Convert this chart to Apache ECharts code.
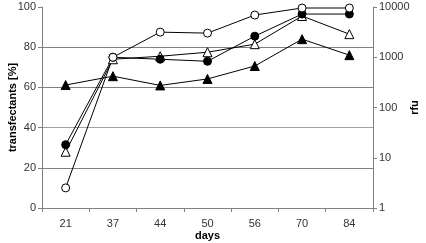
<!DOCTYPE html>
<html>
<head>
<meta charset="utf-8">
<script src="https://cdn.jsdelivr.net/npm/echarts@6/dist/echarts.min.js"></script>
<style>
  html, body { margin: 0; padding: 0; background: #fff; }
  #chart { width: 426px; height: 243px; }
</style>
</head>
<body>
<div id="chart"></div>
<script>
// days after start
var days = ['21', '37', '44', '50', '56', '70', '84'];
// transfectants [%]
var openCircle = [10, 75, 87.5, 87, 96, 99.5, 99.5];
var filledCircle = [31.5, 75, 74, 73, 85.5, 96.5, 96.5];
var openTriangle = [28, 74, 75.5, 77.5, 81.5, 95.5, 86.5];
// rfu (right log axis)
var filledTriangle = [280, 420, 275, 370, 670, 2290, 1100];

var font = 'Liberation Sans, Arial, sans-serif';
var axisGray = '#808080';

var chart = echarts.init(document.getElementById('chart'));

function seriesItem(name, data, symbol, filled, yIdx) {
  return {
    name: name,
    type: 'line',
    data: data,
    yAxisIndex: yIdx,
    symbol: symbol,
    symbolSize: symbol == 'triangle' ? 9 : 8,
    showAllSymbol: true,
    lineStyle: { color: '#000', width: 1 },
    itemStyle: {
      color: filled ? '#000' : '#fff',
      borderColor: '#000',
      borderWidth: 1
    },
    emphasis: { disabled: true },
    animation: false
  };
}

var option = {
  animation: false,
  grid: { left: 42, right: 53, top: 7, bottom: 35, outerBoundsMode: 'none', containLabel: false },
  xAxis: {
    type: 'category',
    data: days,
    boundaryGap: true,
    name: 'days',
    nameLocation: 'middle',
    nameGap: 22,
    nameMoveOverlap: false,
    nameTextStyle: { fontFamily: font, fontSize: 11, fontWeight: 'bold', color: '#000' },
    axisLine: { lineStyle: { color: axisGray, width: 1 } },
    axisTick: { show: true, length: 4, lineStyle: { color: axisGray } },
    axisLabel: { fontFamily: font, fontSize: 11, color: '#333', margin: 10 }
  },
  yAxis: [
    {
      type: 'value',
      min: 0,
      max: 100,
      interval: 20,
      name: 'transfectants [%]',
      nameLocation: 'middle',
      nameGap: 24,
      nameMoveOverlap: false,
      nameTextStyle: { fontFamily: font, fontSize: 11, fontWeight: 'bold', color: '#000' },
      axisLine: { show: true, lineStyle: { color: axisGray, width: 1 } },
      axisTick: { show: true, length: 4, lineStyle: { color: axisGray } },
      axisLabel: { fontFamily: font, fontSize: 11, color: '#333', margin: 6 },
      splitLine: {
        show: true,
        lineStyle: { color: ['transparent', '#808080', '#a0a0a0', '#808080', '#808080', 'transparent'], width: 1 }
      }
    },
    {
      type: 'log',
      logBase: 10,
      min: 1,
      max: 10000,
      name: 'rfu',
      nameLocation: 'middle',
      nameGap: 36,
      nameRotate: 90,
      nameMoveOverlap: false,
      nameTextStyle: { fontFamily: font, fontSize: 11, fontWeight: 'bold', color: '#000' },
      axisLine: { show: true, lineStyle: { color: axisGray, width: 1 } },
      axisTick: { show: true, length: 4, lineStyle: { color: axisGray } },
      axisLabel: {
        fontFamily: font, fontSize: 11, color: '#333', margin: 6,
        formatter: function (v) { return String(Math.round(v)); }
      },
      splitLine: { show: false }
    }
  ],
  series: [
    seriesItem('open triangles', openTriangle, 'triangle', false, 0),
    seriesItem('filled circles', filledCircle, 'circle', true, 0),
    seriesItem('open circles', openCircle, 'circle', false, 0),
    seriesItem('filled triangles', filledTriangle, 'triangle', true, 1)
  ]
};

chart.setOption(option);
</script>
</body>
</html>
